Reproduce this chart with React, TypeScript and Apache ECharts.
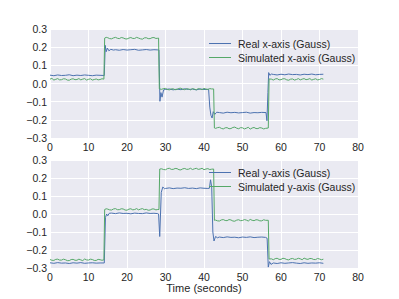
import React, { useEffect, useRef } from "react";
import * as echarts from "echarts";

const xTicks = [0, 10, 20, 30, 40, 50, 60, 70, 80];
const yTicks = [-0.3, -0.2, -0.1, 0.0, 0.1, 0.2, 0.3];

const realXName = "Real x-axis (Gauss)";
const simXName = "Simulated x-axis (Gauss)";
const realYName = "Real y-axis (Gauss)";
const simYName = "Simulated y-axis (Gauss)";

const realX: [number, number][] = [
  [0, 0.046], [1, 0.043], [2, 0.047], [3, 0.044], [4, 0.045], [5, 0.048], [6, 0.043], [7, 0.046],
  [8, 0.044], [9, 0.047], [10, 0.045], [11, 0.043], [12, 0.046], [13, 0.045], [14.1, 0.044],
  [14.35, 0.21], [14.6, 0.175], [14.9, 0.195], [15.3, 0.18], [15.8, 0.188], [16.5, 0.184],
  [17, 0.186], [18, 0.183], [19, 0.187], [20, 0.184], [21, 0.186], [22, 0.188], [23, 0.183],
  [24, 0.185], [25, 0.187], [26, 0.184], [27, 0.186], [28, 0.185], [28.3, 0.185],
  [28.55, -0.098], [28.8, -0.05], [29.1, -0.075], [29.5, -0.035],
  [30, -0.033], [31, -0.03], [32, -0.035], [33, -0.031], [34, -0.034], [35, -0.029], [36, -0.033],
  [37, -0.031], [38, -0.035], [39, -0.03], [40, -0.033], [41, -0.032], [41.2, -0.032],
  [41.5, -0.13], [41.8, -0.175], [42.1, -0.19], [42.4, -0.155], [42.8, -0.17], [43.3, -0.158],
  [44, -0.16], [45, -0.163], [46, -0.158], [47, -0.161], [48, -0.159], [49, -0.162], [50, -0.16],
  [51, -0.158], [52, -0.163], [53, -0.16], [54, -0.161], [55, -0.159], [56.1, -0.16],
  [56.35, -0.205], [56.6, -0.05], [56.8, 0.06], [57.1, 0.045], [57.5, 0.052],
  [58, 0.05], [59, 0.047], [60, 0.051], [61, 0.048], [62, 0.052], [63, 0.049], [64, 0.05],
  [65, 0.047], [66, 0.051], [67, 0.049], [68, 0.052], [69, 0.048], [70, 0.05], [71, 0.051],
];

const simX: [number, number][] = [
  [0, 0.024], [0.5, 0.028], [1, 0.019], [1.5, 0.023], [2, 0.027], [2.5, 0.02], [3, 0.021], [3.5, 0.026],
  [4, 0.025], [4.5, 0.019], [5, 0.018], [5.5, 0.024], [6, 0.026], [6.5, 0.021], [7, 0.022], [7.5, 0.027],
  [8, 0.02], [8.5, 0.024], [9, 0.027], [9.5, 0.019], [10, 0.023], [10.5, 0.026], [11, 0.019], [11.5, 0.022],
  [12, 0.025], [12.5, 0.02], [13, 0.022], [13.5, 0.026], [14.0, 0.024],
  [14.2, 0.25], [14.6, 0.254], [15, 0.252], [15.5, 0.247], [16, 0.246], [16.5, 0.251], [17, 0.254],
  [17.5, 0.249], [18, 0.247], [18.5, 0.253], [19, 0.251], [19.5, 0.246], [20, 0.245], [20.5, 0.25],
  [21, 0.253], [21.5, 0.248], [22, 0.248], [22.5, 0.254], [23, 0.25], [23.5, 0.246], [24, 0.244],
  [24.5, 0.251], [25, 0.252], [25.5, 0.247], [26, 0.247], [26.5, 0.252], [27, 0.253], [27.5, 0.248],
  [28, 0.249], [28.2, 0.25], [28.4, -0.03],
  [29, -0.032], [29.5, -0.028], [30, -0.027], [30.5, -0.033], [31, -0.035], [31.5, -0.03], [32, -0.029],
  [32.5, -0.034], [33, -0.033], [33.5, -0.027], [34, -0.026], [34.5, -0.032], [35, -0.034], [35.5, -0.029],
  [36, -0.03], [36.5, -0.035], [37, -0.028], [37.5, -0.031], [38, -0.035], [38.5, -0.028], [39, -0.031],
  [39.5, -0.034], [40, -0.027], [40.5, -0.031], [41, -0.033], [41.5, -0.028], [42, -0.03],
  [42.5, -0.03], [42.7, -0.245],
  [43, -0.247], [43.5, -0.243], [44, -0.241], [44.5, -0.247], [45, -0.25], [45.5, -0.244], [46, -0.243],
  [46.5, -0.249], [47, -0.248], [47.5, -0.242], [48, -0.24], [48.5, -0.246], [49, -0.249], [49.5, -0.243],
  [50, -0.244], [50.5, -0.25], [51, -0.246], [51.5, -0.241], [52, -0.251], [52.5, -0.245], [53, -0.242],
  [53.5, -0.248], [54, -0.248], [54.5, -0.243], [55, -0.245], [55.5, -0.25], [56, -0.247],
  [56.7, -0.245], [56.9, 0.025],
  [57.5, 0.024], [58, 0.019], [58.5, 0.025], [59, 0.027], [59.5, 0.02], [60, 0.021], [60.5, 0.026],
  [61, 0.026], [61.5, 0.02], [62, 0.018], [62.5, 0.024], [63, 0.025], [63.5, 0.019], [64, 0.022],
  [64.5, 0.027], [65, 0.02], [65.5, 0.024], [66, 0.027], [66.5, 0.021], [67, 0.023], [67.5, 0.027],
  [68, 0.019], [68.5, 0.023], [69, 0.026], [69.5, 0.02], [70, 0.022], [70.5, 0.027], [71, 0.024],
];

const realY: [number, number][] = [
  [0, -0.271], [1, -0.274], [2, -0.27], [3, -0.273], [4, -0.272], [5, -0.275], [6, -0.271],
  [7, -0.273], [8, -0.27], [9, -0.274], [10, -0.272], [11, -0.271], [12, -0.273], [13, -0.272],
  [14.1, -0.272], [14.4, -0.02], [14.7, 0.0], [15.0, -0.01], [15.4, 0.004],
  [16, 0.005], [17, 0.002], [18, 0.006], [19, 0.003], [20, 0.004], [21, 0.001], [22, 0.005],
  [23, 0.003], [24, 0.002], [25, 0.006], [26, 0.003], [27, 0.004], [28, 0.002], [28.2, 0.0],
  [28.5, -0.125], [28.9, 0.12], [29.3, 0.15], [29.8, 0.14],
  [30, 0.142], [31, 0.145], [32, 0.141], [33, 0.144], [34, 0.143], [35, 0.146], [36, 0.142],
  [37, 0.144], [38, 0.141], [39, 0.145], [40, 0.143], [41, 0.142], [41.4, 0.143],
  [41.7, 0.19], [42.0, 0.15], [42.3, -0.1], [42.6, -0.15], [43.0, -0.125], [43.5, -0.132],
  [44, -0.128], [45, -0.131], [46, -0.127], [47, -0.13], [48, -0.129], [49, -0.132], [50, -0.128],
  [51, -0.13], [52, -0.127], [53, -0.131], [54, -0.129], [55, -0.128], [56, -0.13],
  [56.4, -0.135], [56.7, -0.295], [57.0, -0.265], [57.4, -0.28],
  [58, -0.272], [59, -0.275], [60, -0.271], [61, -0.274], [62, -0.272], [63, -0.27], [64, -0.273],
  [65, -0.275], [66, -0.271], [67, -0.274], [68, -0.272], [69, -0.273], [70, -0.271], [71, -0.274],
];

const simY: [number, number][] = [
  [0, -0.253], [0.5, -0.257], [1, -0.258], [1.5, -0.252], [2, -0.251], [2.5, -0.256], [3, -0.256],
  [3.5, -0.251], [4, -0.254], [4.5, -0.259], [5, -0.259], [5.5, -0.253], [6, -0.252], [6.5, -0.257],
  [7, -0.257], [7.5, -0.251], [8, -0.255], [8.5, -0.259], [9, -0.25], [9.5, -0.255], [10, -0.256],
  [10.5, -0.251], [11, -0.253], [11.5, -0.258], [12, -0.258], [12.5, -0.252], [13, -0.254], [13.5, -0.257],
  [14.0, -0.255], [14.2, 0.025],
  [14.6, 0.029], [15, 0.027], [15.5, 0.023], [16, 0.022], [16.5, 0.028], [17, 0.03], [17.5, 0.024],
  [18, 0.024], [18.5, 0.029], [19, 0.028], [19.5, 0.022], [20, 0.021], [20.5, 0.027], [21, 0.029],
  [21.5, 0.023], [22, 0.025], [22.5, 0.03], [23, 0.023], [23.5, 0.027], [24, 0.03], [24.5, 0.024],
  [25, 0.026], [25.5, 0.021], [26, 0.022], [26.5, 0.028], [27, 0.028], [27.5, 0.023], [28, 0.025],
  [28.3, 0.025], [28.5, 0.25],
  [29, 0.251], [29.5, 0.247], [30, 0.246], [30.5, 0.252], [31, 0.254], [31.5, 0.248], [32, 0.248],
  [32.5, 0.253], [33, 0.252], [33.5, 0.246], [34, 0.245], [34.5, 0.251], [35, 0.253], [35.5, 0.248],
  [36, 0.249], [36.5, 0.254], [37, 0.247], [37.5, 0.251], [38, 0.254], [38.5, 0.248], [39, 0.25],
  [39.5, 0.254], [40, 0.246], [40.5, 0.25], [41, 0.252], [41.5, 0.247], [42, 0.249],
  [42.5, 0.25], [42.7, -0.035],
  [43, -0.034], [43.5, -0.038], [44, -0.039], [44.5, -0.033], [45, -0.031], [45.5, -0.036], [46, -0.037],
  [46.5, -0.031], [47, -0.033], [47.5, -0.039], [48, -0.04], [48.5, -0.034], [49, -0.032], [49.5, -0.037],
  [50, -0.036], [50.5, -0.031], [51, -0.034], [51.5, -0.039], [52, -0.03], [52.5, -0.035], [53, -0.037],
  [53.5, -0.032], [54, -0.033], [54.5, -0.038], [55, -0.038], [55.5, -0.032], [56, -0.035],
  [56.7, -0.035], [56.9, -0.25],
  [57.5, -0.249], [58, -0.254], [58.5, -0.248], [59, -0.246], [59.5, -0.252], [60, -0.252], [60.5, -0.246],
  [61, -0.248], [61.5, -0.253], [62, -0.255], [62.5, -0.249], [63, -0.247], [63.5, -0.252], [64, -0.251],
  [64.5, -0.246], [65, -0.249], [65.5, -0.254], [66, -0.245], [66.5, -0.25], [67, -0.252], [67.5, -0.247],
  [68, -0.248], [68.5, -0.253], [69, -0.253], [69.5, -0.247], [70, -0.25], [70.5, -0.254], [71, -0.251],
];

const BLUE = "#4C72B0";
const GREEN = "#55A868";
const TEXT = "#262626";
const FONT = "'Liberation Sans', Arial, sans-serif";

const fmtY = (v: number) => {
  const r = Math.round(v * 10) / 10;
  if (Math.abs(r) < 1e-9) return "0.0";
  return (r < 0 ? "\u2212" : "") + Math.abs(r).toFixed(1);
};

export default function App() {
  const ref = useRef<HTMLDivElement>(null);
  useEffect(() => {
    if (!ref.current) return;
    const chart = echarts.init(ref.current, undefined, { renderer: "svg" });
    const xAxisBase = (gridIndex: number, extra: any = {}) => ({
      type: "value",
      gridIndex,
      min: xTicks[0],
      max: xTicks[xTicks.length - 1],
      interval: 10,
      axisLine: { show: false },
      axisTick: { show: false },
      splitLine: { show: true, lineStyle: { color: "#ffffff", width: 1 } },
      axisLabel: { color: TEXT, fontSize: 10.5, fontFamily: FONT, margin: 3 },
      ...extra,
    });
    const yAxisBase = (gridIndex: number) => ({
      type: "value",
      gridIndex,
      min: yTicks[0],
      max: yTicks[yTicks.length - 1],
      interval: 0.1,
      axisLine: { show: false },
      axisTick: { show: false },
      splitLine: { show: true, lineStyle: { color: "#ffffff", width: 1 } },
      axisLabel: { color: TEXT, fontSize: 10.5, fontFamily: FONT, margin: 3, formatter: fmtY },
    });
    const lineSeries = (name: string, data: [number, number][], color: string, idx: number) => ({
      type: "line",
      name,
      data,
      xAxisIndex: idx,
      yAxisIndex: idx,
      symbol: "none",
      lineStyle: { color, width: 1 },
      itemStyle: { color },
    });
    const legendBase = (names: string[], top: number) => ({
      data: names.map((n) => ({ name: n, icon: "rect" })),
      orient: "vertical",
      left: 204,
      top,
      itemWidth: 22,
      itemHeight: 1,
      itemGap: 3,
      textStyle: { color: TEXT, fontSize: 10.5, fontFamily: FONT, padding: [0, 0, 0, 2] },
    });
    chart.setOption({
      animation: false,
      textStyle: { fontFamily: FONT },
      grid: [
        { left: 50, right: 41, top: 29, height: 109, show: true, backgroundColor: "#EAEAF2", borderWidth: 0 },
        { left: 50, right: 41, top: 160, height: 108, show: true, backgroundColor: "#EAEAF2", borderWidth: 0 },
      ],
      xAxis: [
        xAxisBase(0),
        xAxisBase(1, {
          name: "Time (seconds)",
          nameLocation: "middle",
          nameGap: 12,
          nameTextStyle: { color: TEXT, fontSize: 11, fontFamily: FONT },
        }),
      ],
      yAxis: [yAxisBase(0), yAxisBase(1)],
      legend: [legendBase([realXName, simXName], 33), legendBase([realYName, simYName], 162)],
      series: [
        lineSeries(realXName, realX, BLUE, 0),
        lineSeries(simXName, simX, GREEN, 0),
        lineSeries(realYName, realY, BLUE, 1),
        lineSeries(simYName, simY, GREEN, 1),
      ],
    });
    return () => chart.dispose();
  }, []);
  return (
    <div
      ref={ref}
      style={{ position: "absolute", left: 0, top: 0, width: 399, height: 299 }}
    />
  );
}
